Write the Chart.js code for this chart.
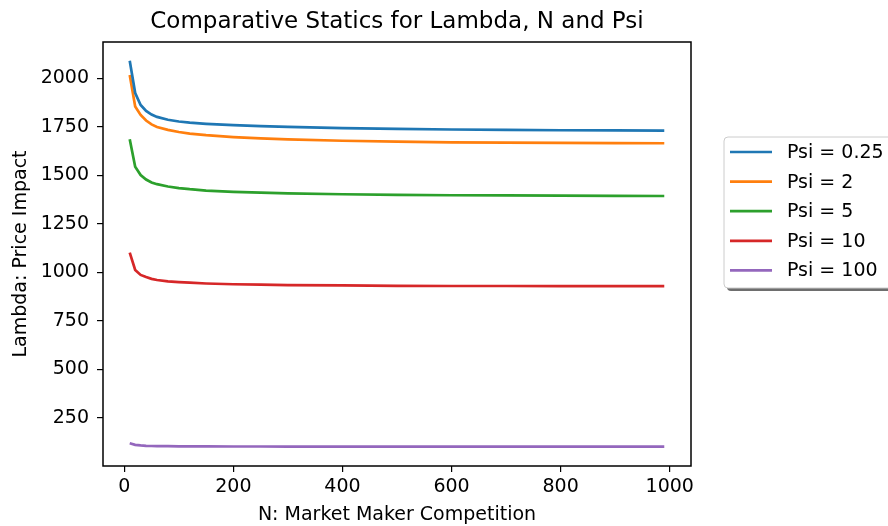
<!DOCTYPE html>
<html>
<head>
<meta charset="utf-8">
<script src="https://cdn.jsdelivr.net/npm/chart.js@4/dist/chart.umd.min.js"></script>
<style>
  html, body { margin: 0; padding: 0; background: #fff; }
  #wrap { width: 888px; height: 526px; }
</style>
</head>
<body>
<div id="wrap"><canvas id="chart" width="888" height="526"></canvas></div>
<script>
// N values (market maker competition)
var nValues = [10, 20, 30, 40, 50, 60, 80, 100, 120, 150, 200, 250, 300, 400, 500, 600, 700, 800, 900, 990];

// lambda, one list per psi
var psi025 = [2090, 1924, 1862, 1832, 1813, 1801, 1786, 1777, 1771, 1765, 1758, 1753, 1749, 1743, 1739, 1736, 1734, 1732, 1731, 1730];
var psi2   = [2017, 1854, 1811, 1782, 1762, 1749, 1734, 1723, 1715, 1707, 1697, 1690, 1685, 1678, 1673, 1670, 1668, 1667, 1666, 1665];
var psi5   = [1686, 1544, 1501, 1478, 1463, 1454, 1442, 1434, 1428, 1421, 1414, 1410, 1407, 1402, 1399, 1397, 1396, 1395, 1394, 1393];
var psi10  = [1101, 1012, 986, 975, 966, 960, 953, 949, 946, 942, 938, 936, 934, 932, 930, 929, 929, 928, 928, 928];
var psi100 = [118, 110, 107, 105, 104, 103.5, 103, 102.5, 102, 102, 101.5, 101.5, 101, 101, 101, 101, 101, 101, 101, 101];

var seriesLabels = ['Psi = 0.25', 'Psi = 2', 'Psi = 5', 'Psi = 10', 'Psi = 100'];
var seriesColors = ['#1f77b4', '#ff7f0e', '#2ca02c', '#d62728', '#9467bd'];
var xTicks = [0, 200, 400, 600, 800, 1000];
var yTicks = [250, 500, 750, 1000, 1250, 1500, 1750, 2000];

var FONT = 'DejaVu Sans';

function toPoints(ys) {
  return nValues.map(function(n, i) { return { x: n, y: ys[i] }; });
}

var allSeries = [psi025, psi2, psi5, psi10, psi100];
var datasets = allSeries.map(function(ys, i) {
  return {
    label: seriesLabels[i],
    data: toPoints(ys),
    borderColor: seriesColors[i],
    backgroundColor: seriesColors[i],
    borderWidth: 2.7,
    pointRadius: 0,
    tension: 0,
    fill: false
  };
});

// matplotlib-ish frame around the plot area
var framePlugin = {
  id: 'frame',
  afterDatasetsDraw: function(chart) {
    var a = chart.chartArea, ctx = chart.ctx;
    ctx.save();
    ctx.strokeStyle = '#000';
    ctx.lineWidth = 1.5;
    ctx.strokeRect(a.left, a.top, a.right - a.left, a.bottom - a.top);
    ctx.restore();
  }
};

// legend outside the axes, on the right, with the drop shadow
var sideLegend = {
  id: 'sideLegend',
  afterDraw: function(chart) {
    var ctx = chart.ctx;
    var x = 724, y = 137, w = 180, h = 151, r = 4;
    ctx.save();
    function box(ox, oy) {
      ctx.beginPath();
      ctx.moveTo(ox + r, oy);
      ctx.lineTo(ox + w - r, oy);
      ctx.quadraticCurveTo(ox + w, oy, ox + w, oy + r);
      ctx.lineTo(ox + w, oy + h - r);
      ctx.quadraticCurveTo(ox + w, oy + h, ox + w - r, oy + h);
      ctx.lineTo(ox + r, oy + h);
      ctx.quadraticCurveTo(ox, oy + h, ox, oy + h - r);
      ctx.lineTo(ox, oy + r);
      ctx.quadraticCurveTo(ox, oy, ox + r, oy);
      ctx.closePath();
    }
    box(x + 3, y + 3);
    ctx.fillStyle = '#6e6e6e';
    ctx.fill();
    box(x, y);
    ctx.fillStyle = '#fff';
    ctx.fill();
    ctx.strokeStyle = '#cccccc';
    ctx.lineWidth = 1;
    ctx.stroke();

    ctx.font = '19px "' + FONT + '"';
    ctx.textBaseline = 'middle';
    ctx.textAlign = 'left';
    chart.data.datasets.forEach(function(ds, i) {
      var ly = 152 + i * 29.6;
      ctx.strokeStyle = ds.borderColor;
      ctx.lineWidth = 2.7;
      ctx.beginPath();
      ctx.moveTo(730, ly);
      ctx.lineTo(772, ly);
      ctx.stroke();
      ctx.fillStyle = '#000';
      ctx.fillText(ds.label, 787, ly + 1);
    });
    ctx.restore();
  }
};

function plain(v) { return String(v); }

var ctx = document.getElementById('chart').getContext('2d');
new Chart(ctx, {
  type: 'line',
  data: { datasets: datasets },
  plugins: [framePlugin, sideLegend],
  options: {
    responsive: false,
    animation: false,
    layout: { padding: { left: 0, right: 197, top: 0, bottom: 0 } },
    plugins: {
      legend: { display: false },
      tooltip: { enabled: false },
      title: {
        display: true,
        text: 'Comparative Statics for Lambda, N and Psi',
        fullSize: false,
        color: '#000',
        font: { family: FONT, size: 23, weight: 'normal', lineHeight: 1.2 },
        padding: { top: 8, bottom: 6.4 }
      }
    },
    scales: {
      x: {
        type: 'linear',
        min: -39,
        max: 1039,
        afterFit: function(s) { s.height = 60; },
        afterBuildTicks: function(s) { s.ticks = xTicks.map(function(v) { return { value: v }; }); },
        grid: { drawOnChartArea: false, drawTicks: true, tickLength: 6, color: '#000', lineWidth: 1.2 },
        border: { display: false },
        ticks: { color: '#000', font: { family: FONT, size: 19 }, padding: 4, maxRotation: 0, callback: plain },
        title: {
          display: true,
          text: 'N: Market Maker Competition',
          color: '#000',
          font: { family: FONT, size: 19, lineHeight: 1.2 },
          padding: { top: 0, bottom: 0 }
        }
      },
      y: {
        type: 'linear',
        min: 1,
        max: 2187,
        afterFit: function(s) { s.width = 103; },
        afterBuildTicks: function(s) { s.ticks = yTicks.map(function(v) { return { value: v }; }); },
        grid: { drawOnChartArea: false, drawTicks: true, tickLength: 6, color: '#000', lineWidth: 1.2 },
        border: { display: false },
        ticks: { color: '#000', font: { family: FONT, size: 19 }, padding: 8, callback: plain },
        title: {
          display: true,
          text: 'Lambda: Price Impact',
          color: '#000',
          font: { family: FONT, size: 19, lineHeight: 1.2 },
          padding: { top: 10, bottom: 0 }
        }
      }
    }
  }
});
</script>
</body>
</html>
